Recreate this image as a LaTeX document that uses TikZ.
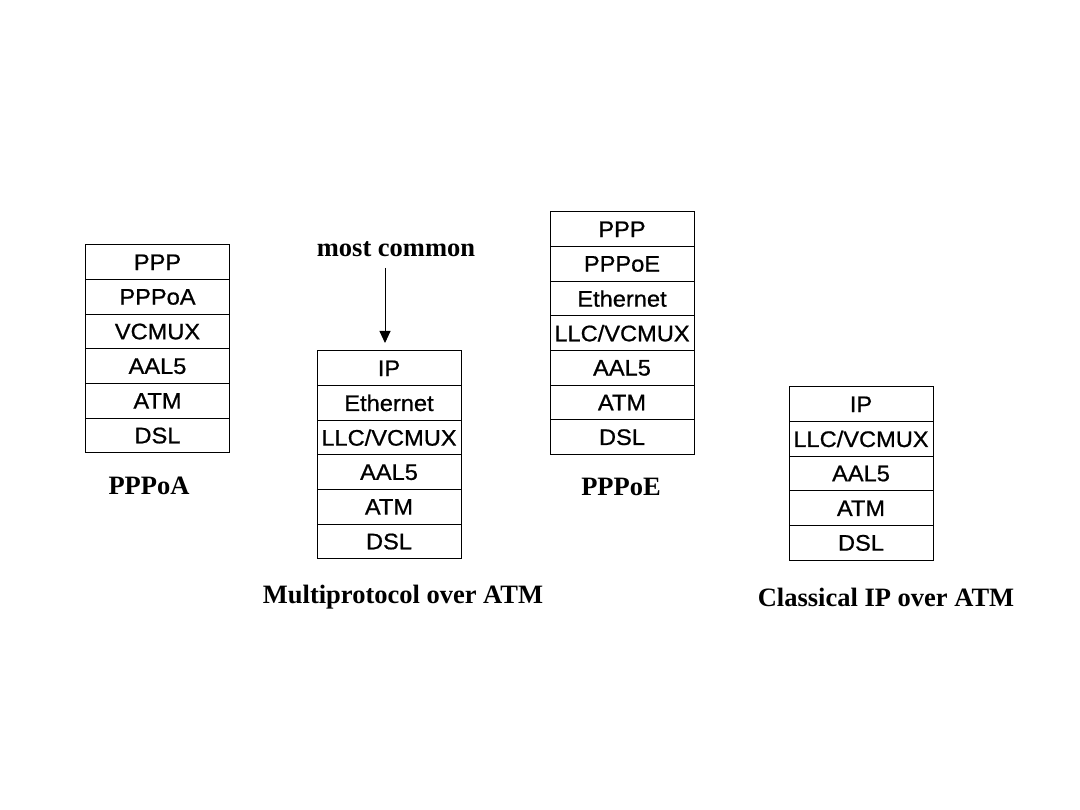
\documentclass[tikz,border=0pt]{standalone}
\usepackage{fontspec}
\setmainfont{Liberation Serif}
\newfontfamily\stackfont[FakeStretch=1.05,FakeBold=0.8]{Liberation Sans}
\usetikzlibrary{arrows.meta}
\tikzset{
  cell/.style={draw, line width=1pt, minimum width=144pt, minimum height=34.65pt,
    inner sep=0pt, font=\stackfont\fontsize{22.5}{23}\selectfont},
  caption/.style={font=\bfseries\fontsize{26.5}{28}\selectfont, inner sep=0pt},
  pointer/.style={-{Triangle[length=12pt,width=11pt]}, line width=0.9pt}
}
\begin{document}
\begin{tikzpicture}[x=1pt,y=-1pt]
\useasboundingbox (0,0) rectangle (1080,810);
% PPPoA stack
\foreach \t [count=\i] in {PPP,PPPoA,VCMUX,AAL5,ATM,DSL}
  \node[cell] (a\i) at (157.5,{262.3+34.65*(\i-1)}) {\t};
\node[caption] (capa) at (149,486) {PPPoA};
% Multiprotocol over ATM stack
\foreach \t [count=\i] in {IP,Ethernet,LLC/VCMUX,AAL5,ATM,DSL}
  \node[cell] (m\i) at (389,{368.3+34.65*(\i-1)}) {\t};
\node[caption] (capm) at (403,597) {Multiprotocol over ATM};
\node[caption] (common) at (396,249) {most common};
\coordinate (arrstart) at (385,268);
\coordinate (arrend) at (385,343);
\draw[pointer] (arrstart) -- (arrend);
% PPPoE stack
\foreach \t [count=\i] in {PPP,PPPoE,Ethernet,LLC/VCMUX,AAL5,ATM,DSL}
  \node[cell] (e\i) at (622,{229.3+34.65*(\i-1)}) {\t};
\node[caption] (cape) at (621,487) {PPPoE};
% Classical IP over ATM stack
\foreach \t [count=\i] in {IP,LLC/VCMUX,AAL5,ATM,DSL}
  \node[cell] (c\i) at (861,{404.3+34.65*(\i-1)}) {\t};
\node[caption] (capc) at (886,597) {Classical IP over ATM};
\end{tikzpicture}
\end{document}
